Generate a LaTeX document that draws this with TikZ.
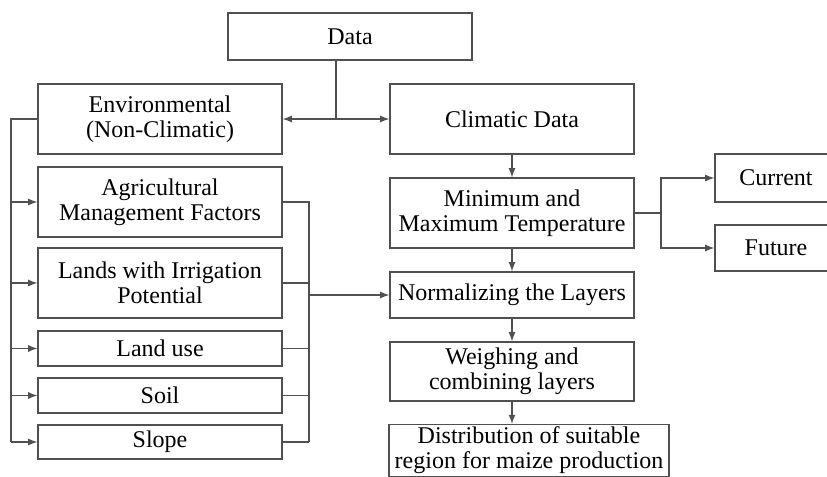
\documentclass[tikz,border=0pt]{standalone}
\usepackage{fontspec}
\setmainfont{Liberation Serif}
\usetikzlibrary{shadows}
\definecolor{ln}{HTML}{505050}
\tikzset{every node/.style={rectangle,align=center,draw=ln,text=black,line width=0.6pt,fill=white,inner sep=2pt,
  drop shadow={shadow xshift=0.7pt,shadow yshift=-0.7pt,fill=black!12},font=\fontsize{12}{12.5}\selectfont}}
\tikzset{every path/.style={>=latex}}
\tikzset{w/.style={minimum width=122pt}}
\tikzset{h2/.style={minimum height=35pt}}

\begin{document}
\begin{tikzpicture}[x=0.5pt,y=-0.5pt,color=ln,line width=0.6pt]
\useasboundingbox (0,0) rectangle (827,477);
\clip (0,0) rectangle (827,477);
\node[w,minimum height=23.5pt](data) at (350,36.5) {Data};
\node[w,h2](env) at (160,119) {Environmental\\(Non-Climatic)};
\node[w,h2](agri) at (160,202) {Agricultural\\Management Factors};
\node[w,h2](irr) at (160,283) {Lands with Irrigation\\Potential};
\node[w,minimum height=17.5pt](lu) at (160,348.5) {Land use};
\node[w,minimum height=17.5pt](soil) at (160,395.5) {Soil};
\node[w,minimum height=17pt](slope) at (160,442) {Slope};
\node[w,h2](clim) at (512,119) {Climatic Data};
\node[w,h2](temp) at (512,213) {Minimum and\\Maximum Temperature};
\node[w,minimum height=23pt](norm) at (512,295) {Normalizing the Layers};
\node[w,minimum height=29.5pt](weigh) at (512,371.5) {Weighing and\\combining layers};
\node[minimum width=140pt,anchor=north,inner ysep=1.2pt,inner xsep=2pt](dist) at (529,424) {Distribution of suitable\\region for maize production};
\node[minimum width=61pt,minimum height=24pt](cur) at (776,178) {Current};
\node[minimum width=61pt,minimum height=23pt](fut) at (776,248) {Future};

\coordinate (j1) at (336,119);
\coordinate (lb) at (11,119);
\coordinate (rb) at (309,202);
\coordinate (tb) at (661,213);

\draw (data.south -| j1) -- (j1);
\draw[->] (j1) -- (env);
\draw[->] (j1) -- (clim);

\draw (env.west) -- (lb) -- (lb |- slope.west);
\foreach \t in {agri,irr,lu,soil,slope}
  \draw[->] (lb |- \t.west) -- (\t.west);

\draw (agri.east) -- (rb) -- (rb |- slope.east);
\foreach \s in {irr,lu,soil,slope}
  \draw (\s.east) -- (rb |- \s.east);
\draw[->] (rb |- norm.west) -- (norm.west);

\foreach \s/\t in {clim/temp,temp/norm,norm/weigh}
  \draw[->] (\s) -- (\t);
\draw[->] (weigh.south) -- (weigh.south |- dist.north);

\draw (temp.east) -- (tb);
\draw[->] (tb) |- (cur.west);
\draw[->] (tb) |- (fut.west);
\end{tikzpicture}
\end{document}
